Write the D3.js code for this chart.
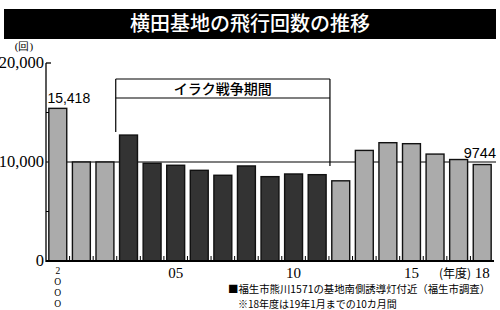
<!DOCTYPE html>
<html><head><meta charset="utf-8">
<script src="https://cdn.jsdelivr.net/npm/d3@7"></script>
<style>body{margin:0;background:#fff}svg{display:block}</style>
</head><body>
<script>
const years = [2000,2001,2002,2003,2004,2005,2006,2007,2008,2009,2010,2011,2012,2013,2014,2015,2016,2017,2018];
const flights = [15418,10000,10000,12720,9870,9670,9160,8660,9600,8520,8790,8720,8100,11170,11950,11850,10800,10250,9744];
const iraqWar = [2003,2004,2005,2006,2007,2008,2009,2010,2011];
const yTicks = [0,10000,20000];
const yMinor = [5000,15000];
const xLabels = {2005:"05",2010:"10",2015:"15",2018:"18"};
const title = "横田基地の飛行回数の推移";
const note1 = "■福生市熊川1571の基地南側誘導灯付近（福生市調査）";
const note2 = "※18年度は19年1月までの10カ月間";

const W=500,H=310;
const svg=d3.select("body").append("svg").attr("width",W).attr("height",H);
const jp="'Noto Sans CJK JP','Noto Sans',sans-serif";
const serif="'Liberation Serif','DejaVu Serif',serif";
const sans="'Liberation Sans',Arial,sans-serif";

// title bar
svg.append("rect").attr("x",4).attr("y",9).attr("width",492).attr("height",30).attr("fill","#000");
svg.append("text").attr("x",250).attr("y",31).attr("text-anchor","middle").attr("fill","#fff")
  .attr("font-family",jp).attr("font-size",20).attr("font-weight",500).text(title);

const x=d3.scaleBand().domain(years).range([46,494]).paddingInner(0.24).paddingOuter(0.12);
const y=d3.scaleLinear().domain([0,20000]).range([261,63]);
const step=x.step();

// 10000 reference line (behind bars)
svg.append("line").attr("x1",46).attr("x2",496).attr("y1",y(10000)).attr("y2",y(10000))
  .attr("stroke","#000").attr("stroke-width",1.2);

// Iraq bracket
const bx1=x(iraqWar[0])-step*0.12-1, bx2=x(iraqWar[iraqWar.length-1])+x.bandwidth()+step*0.12+1;
const g=svg.append("g").attr("fill","none").attr("stroke","#000").attr("stroke-width",1.2);
g.append("line").attr("x1",bx1).attr("x2",bx2).attr("y1",79).attr("y2",79);
g.append("line").attr("x1",bx1).attr("x2",bx2).attr("y1",98).attr("y2",98);
g.append("line").attr("x1",bx1).attr("x2",bx1).attr("y1",79).attr("y2",132);
g.append("line").attr("x1",bx2).attr("x2",bx2).attr("y1",79).attr("y2",y(10000)+4);
svg.append("text").attr("x",(bx1+bx2)/2).attr("y",94).attr("text-anchor","middle")
  .attr("font-family",jp).attr("font-size",14).attr("font-weight",500).text("イラク戦争期間");

// bars
svg.selectAll("rect.bar").data(years).join("rect").attr("class","bar")
  .attr("x",d=>x(d)).attr("width",x.bandwidth())
  .attr("y",(d,i)=>y(flights[i])).attr("height",(d,i)=>y(0)-y(flights[i]))
  .attr("fill",d=>iraqWar.includes(d)?"#333333":"#ababab")
  .attr("stroke","#111").attr("stroke-width",1.4);

// y axis
svg.append("line").attr("x1",46).attr("x2",46).attr("y1",y(20000)).attr("y2",y(0)+1).attr("stroke","#000").attr("stroke-width",1.3);
svg.append("line").attr("x1",46).attr("x2",51).attr("y1",y(20000)).attr("y2",y(20000)).attr("stroke","#000").attr("stroke-width",1.3);
yMinor.forEach(v=>svg.append("line").attr("x1",46).attr("x2",49).attr("y1",y(v)).attr("y2",y(v)).attr("stroke","#000").attr("stroke-width",1));
yTicks.forEach(v=>svg.append("text").attr("x",44).attr("y",y(v)+5).attr("text-anchor","end")
  .attr("font-family",serif).attr("font-size",16.5).text(d3.format(",")(v)));
svg.append("text").attr("x",24).attr("y",50).attr("text-anchor","middle")
  .attr("font-family",serif).attr("font-size",11).text("(回)");

// baseline & ticks between bars
svg.append("line").attr("x1",46).attr("x2",494).attr("y1",y(0)).attr("y2",y(0)).attr("stroke","#000").attr("stroke-width",2);
years.slice(1).forEach(d=>{
  const tx=x(d)-step*0.12;
  svg.append("line").attr("x1",tx).attr("x2",tx).attr("y1",y(0)).attr("y2",y(0)-5).attr("stroke","#000").attr("stroke-width",1);
});

// x labels
"2000".split("").forEach((c,i)=>svg.append("text").attr("x",x(2000)+x.bandwidth()/2).attr("y",274+i*11)
  .attr("text-anchor","middle").attr("font-family",serif).attr("font-size",9.5).text(c==="0"?"O":c));
Object.entries(xLabels).forEach(([yr,l])=>svg.append("text").attr("x",x(+yr)+x.bandwidth()/2).attr("y",278)
  .attr("text-anchor","middle").attr("font-family",serif).attr("font-size",15).text(l));
svg.append("text").attr("x",471).attr("y",278).attr("text-anchor","end")
  .attr("font-family",jp).attr("font-size",12).text("(年度)");

// value labels
svg.append("text").attr("x",x(2000)+x.bandwidth()/2+11).attr("y",y(15418)-5).attr("text-anchor","middle")
  .attr("font-family",sans).attr("font-size",14).text("15,418");
svg.append("text").attr("x",496).attr("y",y(10000)-4).attr("text-anchor","end")
  .attr("font-family",sans).attr("font-size",14.5).text("9744");

// notes
svg.append("text").attr("x",228).attr("y",293).attr("font-family",jp).attr("font-size",10.4).text(note1);
svg.append("text").attr("x",238).attr("y",307.5).attr("font-family",jp).attr("font-size",10).text(note2);
</script>
</body></html>
